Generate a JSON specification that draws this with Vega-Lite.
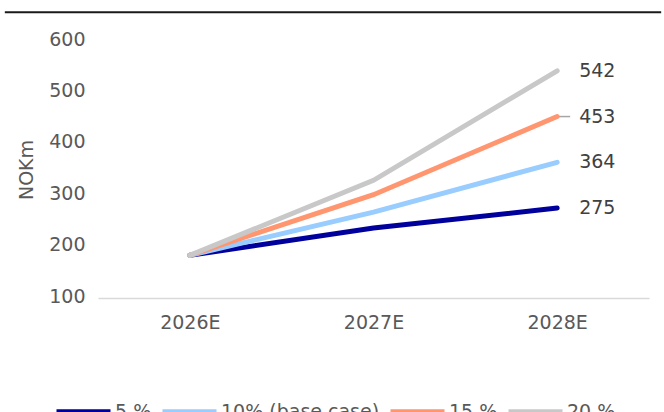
{
  "$schema": "https://vega.github.io/schema/vega-lite/v6.json",
  "width": 551,
  "height": 257,
  "autosize": {"type": "none"},
  "padding": {"left": 98, "top": 41, "right": 15, "bottom": 114},
  "config": {
    "view": {"stroke": null},
    "font": "DejaVu Sans"
  },
  "data": {
    "values": [
      {"scenario": "5 %", "year": "2026E", "value": 183},
      {"scenario": "5 %", "year": "2027E", "value": 236},
      {"scenario": "5 %", "year": "2028E", "value": 275},
      {"scenario": "10% (base case)", "year": "2026E", "value": 183},
      {"scenario": "10% (base case)", "year": "2027E", "value": 267},
      {"scenario": "10% (base case)", "year": "2028E", "value": 364},
      {"scenario": "15 %", "year": "2026E", "value": 183},
      {"scenario": "15 %", "year": "2027E", "value": 301},
      {"scenario": "15 %", "year": "2028E", "value": 453},
      {"scenario": "20 %", "year": "2026E", "value": 183},
      {"scenario": "20 %", "year": "2027E", "value": 329},
      {"scenario": "20 %", "year": "2028E", "value": 542}
    ]
  },
  "layer": [
    {
      "encoding": {
        "x": {
          "field": "year",
          "type": "ordinal",
          "scale": {"type": "point", "padding": 0.5},
          "axis": {
            "title": null,
            "labelAngle": 0,
            "labelFontSize": 19,
            "labelColor": "#595959",
            "labelPadding": 15,
            "ticks": false,
            "domainColor": "#d9d9d9",
            "domainWidth": 1.5
          }
        },
        "y": {
          "field": "value",
          "type": "quantitative",
          "scale": {"domain": [100, 600]},
          "axis": {
            "values": [100, 200, 300, 400, 500, 600],
            "grid": false,
            "domain": false,
            "ticks": false,
            "labelFontSize": 19,
            "labelColor": "#595959",
            "labelPadding": 13,
            "labelOffset": -2,
            "title": "NOKm",
            "titleFontSize": 19,
            "titleFontWeight": "normal",
            "titleColor": "#595959",
            "titlePadding": 12
          }
        }
      },
      "layer": [
        {
          "mark": {"type": "line", "strokeWidth": 5, "strokeCap": "round"},
          "encoding": {
            "color": {
              "field": "scenario",
              "type": "nominal",
              "scale": {
                "domain": ["5 %", "10% (base case)", "15 %", "20 %"],
                "range": ["#00009c", "#99ccff", "#ff9670", "#c8c8c8"]
              },
              "legend": {
                "title": null,
                "orient": "none",
                "legendX": -44,
                "legendY": 341,
                "direction": "horizontal",
                "symbolType": "stroke",
                "symbolSize": 2916,
                "symbolStrokeWidth": 5,
                "labelFontSize": 19,
                "labelColor": "#595959",
                "labelOffset": 2,
                "columnPadding": 0
              }
            }
          }
        },
        {
          "transform": [{"filter": "datum.scenario === '15 %' && datum.year === '2028E'"}],
          "mark": {"type": "rule", "xOffset": 2, "x2Offset": 13, "strokeWidth": 1.5, "color": "#a6a6a6"},
          "encoding": {"x2": {"field": "year"}}
        },
        {
          "transform": [{"filter": "datum.year === '2028E'"}],
          "mark": {"type": "text", "align": "left", "baseline": "middle", "dx": 22, "fontSize": 19, "color": "#404040"},
          "encoding": {"text": {"field": "value", "type": "quantitative"}}
        }
      ]
    },
    {
      "data": {"values": [{"rule": "top"}]},
      "mark": {"type": "rule", "clip": false, "xOffset": -185, "x2Offset": 104, "strokeWidth": 2, "color": "#1a1a1a"},
      "encoding": {
        "x": {"datum": "2026E", "type": "ordinal", "title": null},
        "x2": {"datum": "2028E"},
        "y": {"datum": 656, "type": "quantitative", "scale": {"domain": [100, 600]}, "title": null}
      }
    }
  ]
}
